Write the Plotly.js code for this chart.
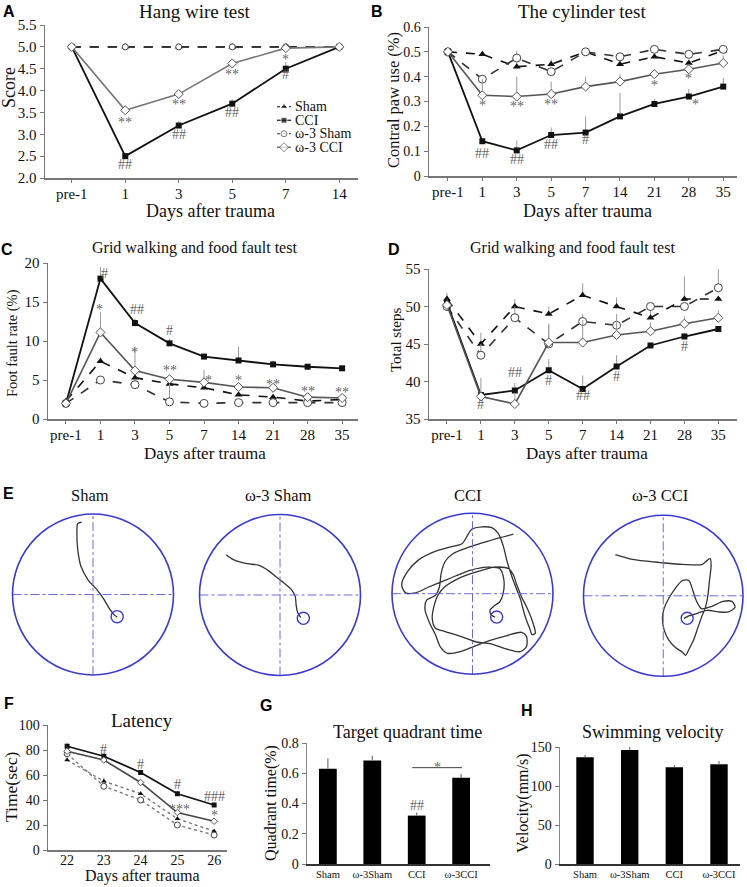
<!DOCTYPE html>
<html><head><meta charset="utf-8">
<script src="https://cdn.plot.ly/plotly-3.0.1.min.js"></script>
<style>html,body{margin:0;padding:0;background:#fff}#chart{width:747px;height:887px}</style>
</head><body><div id="chart"></div>
<script>
// ---------- DATA ----------
const daysA = ['pre-1','1','3','5','7','14'];
const A_sham   = [5,5,5,5,5,5];
const A_cci    = [5.0,2.5,3.2,3.7,4.5,5.0];
const A_w3sham = [5,5,5,5,5,5];
const A_w3cci  = [5.0,3.55,3.92,4.62,4.97,5.0];
const A_cciErr = [0,0.05,0.1,0.1,0.15,0];
const A_w3cciErr = [0,0.05,0.05,0.06,0.05,0];

const daysB = ['pre-1','1','3','5','7','14','21','28','35'];
const B_sham   = [0.50,0.49,0.44,0.45,0.50,0.45,0.48,0.455,0.505];
const B_cci    = [0.50,0.14,0.103,0.165,0.175,0.24,0.29,0.32,0.36];
const B_w3sham = [0.50,0.39,0.475,0.42,0.50,0.48,0.51,0.49,0.51];
const B_w3cci  = [0.50,0.325,0.32,0.33,0.36,0.38,0.41,0.43,0.455];
const B_shamErr   = [0,0,0.02,0.02,0,0,0,0,0];
const B_cciErr    = [0,0.01,0.04,0.03,0.065,0.095,0.02,0.03,0.035];
const B_w3shamErr = [0,0,0.03,0,0,0.01,0,0,0.01];
const B_w3cciErr  = [0,0.065,0.08,0.05,0.04,0.03,0.02,0.02,0.03];

const daysC = ['pre-1','1','3','5','7','14','21','28','35'];
const C_sham   = [2.3,7.4,5.3,4.5,4.0,3.1,2.8,2.3,2.5];
const C_cci    = [2.0,18.0,12.3,9.7,8.0,7.5,7.0,6.7,6.5];
const C_w3sham = [2.0,5.0,4.4,2.2,2.0,2.1,2.1,2.1,2.1];
const C_w3cci  = [2.0,11.1,6.2,5.1,4.7,4.1,4.0,2.8,2.7];
const C_shamErr   = [0,0.5,0.4,0.3,0.3,0.2,0.2,0.2,0.2];
const C_cciErr    = [0,1.5,0.6,0.6,0.3,1.8,0.5,0.3,0.2];
const C_w3shamErr = [0,0.3,0.3,2.8,0.2,0.2,0.2,0.2,0.2];
const C_w3cciErr  = [0,2.6,3.0,0.3,1.6,0.6,0.3,0.3,0.3];

const daysD = ['pre-1','1','3','5','7','14','21','28','35'];
const D_sham   = [51.0,45.0,50.0,49.0,51.5,50.0,48.5,51.0,51.0];
const D_cci    = [50.5,38.2,38.8,41.5,39.0,42.0,44.8,46.0,47.0];
const D_w3sham = [50.0,43.5,48.5,45.0,48.0,47.5,50.0,50.0,52.5];
const D_w3cci  = [50.2,38.0,37.0,45.2,45.2,46.2,46.7,47.7,48.5];
const D_shamErr   = [0.8,1.5,1.0,1.0,1.6,1.2,1.2,3.0,0];
const D_cciErr    = [0,0,1.0,1.5,1.8,1.5,0,0.5,0];
const D_w3shamErr = [1.0,1.5,1.5,2.5,1.0,1.5,0.5,0,2.7];
const D_w3cciErr  = [0,2.5,1.5,2.5,3.0,2.0,1.2,1.0,1.0];

const daysF = [22,23,24,25,26];
const F_sham   = [72,55,45,25,15];
const F_cci    = [83,75,62,45,36];
const F_w3sham = [77,51,40,20,12];
const F_w3cci  = [79,72,54,30,23];
const F_cciErr   = [3,2,2,2,2];
const F_w3cciErr = [3,2,3,3,3];
const F_shamErr  = [2,3,2,2,2];
const F_w3shamErr= [2,2,2,2,2];

const groupsGH = ['Sham','ω-3Sham','CCI','ω-3CCI'];
const G_vals = [0.63,0.685,0.32,0.57];
const G_err  = [0.07,0.03,0.02,0.025];
const H_vals = [137,146,124,128];
const H_err  = [3,4,3,4];

// significance marks
const sigA_x=[1,2,3,4,1,2,3,4], sigA_y=[3.37,3.77,4.47,4.81,2.32,3.0,3.49,4.36], sigA_t=['**','**','**','*','##','##','##','#'];
const sigB_x=[1,2,3,6,7,1,2,3,4,7.2], sigB_y=[0.30,0.294,0.306,0.38,0.407,0.089,0.068,0.125,0.145,0.305], sigB_t=['*','**','**','*','*','##','##','##','#','*'];
const sigC_x=[1.13,2.05,3.0,0.96,2.0,3.0,4.12,5,6,7,8], sigC_y=[18.7,14.1,11.4,14.6,9.1,6.7,5.4,5.4,5.0,4.0,3.85], sigC_t=['#','##','#','*','*','**','*','*','**','**','**'];
const sigD_x=[1,2,3,4,5,7], sigD_y=[36.96,41.2,40.2,38.1,40.7,44.7], sigD_t=['#','##','#','##','#','#'];
const sigF_x=[23,24,25,26,25.07,26], sigF_y=[80.5,68.8,52.8,42.7,36,30.6], sigF_t=['#','#','#','###','***','*'];
const sigG_x=[2], sigG_y=[0.385], sigG_t=['##'];
const bracketG = {from:1.9, to:3.02, y:0.637, label:'*', labelY:0.667};

// legend order (panel A)
const legendOrder = ['sham','cci','w3sham','w3cci'];

// Morris water maze swim paths (pool radius = 1)
const poolNames = ['Sham','ω-3 Sham','CCI','ω-3 CCI'];
const platX = [0.30,0.29,0.30,0.30], platY=[-0.275,-0.29,-0.29,-0.28], platR=[0.075,0.075,0.075,0.075];
const path0x=[-0.14,-0.19,-0.20,-0.19,-0.15,-0.06,0.04,0.13,0.20,0.26,0.30];
const path0y=[0.90,0.88,0.77,0.56,0.35,0.18,0.07,-0.05,-0.17,-0.25,-0.28];
const path1x=[-0.67,-0.58,-0.41,-0.27,-0.14,-0.04,0.06,0.14,0.19,0.20,0.22,0.26];
const path1y=[0.50,0.44,0.39,0.37,0.30,0.22,0.14,0.07,-0.02,-0.12,-0.22,-0.28];
const path2x=[0.51,0.32,0.12,-0.07,-0.24,-0.34,-0.39,-0.41,-0.46,-0.57,-0.59,-0.53,-0.46,-0.40,-0.31,-0.15,0.03,0.22,0.43,0.61,0.67,0.67,0.59,0.43,0.22,0.05,-0.15,-0.34,-0.46,-0.50,-0.48,-0.43,-0.35,-0.17,0.05,0.28,0.45,0.51,0.55,0.61,0.67,0.74,0.78,0.74,0.71,0.67,0.63,0.60,0.55,0.49,0.43,0.38,0.32,0.24,0.12,-0.01,-0.07,-0.13,-0.28,-0.48,-0.67,-0.81,-0.88,-0.83,-0.71,-0.55,-0.38,-0.21,-0.03,0.18,0.34,0.39,0.38,0.34,0.27,0.22,0.23,0.28];
const path2y=[0.74,0.69,0.63,0.57,0.50,0.40,0.25,0.09,-0.02,-0.08,-0.20,-0.37,-0.51,-0.66,-0.74,-0.72,-0.65,-0.58,-0.52,-0.48,-0.53,-0.66,-0.72,-0.69,-0.62,-0.60,-0.53,-0.47,-0.43,-0.31,-0.16,-0.02,0.08,0.19,0.27,0.33,0.31,0.23,0.11,-0.04,-0.16,-0.33,-0.49,-0.51,-0.43,-0.33,-0.20,-0.08,0.05,0.21,0.40,0.60,0.75,0.82,0.83,0.80,0.71,0.62,0.58,0.52,0.42,0.27,0.11,0.01,0.01,0.08,0.15,0.22,0.29,0.33,0.31,0.17,0.0,-0.10,-0.15,-0.20,-0.26,-0.29];
const path3x=[-0.60,-0.42,-0.21,-0.01,0.24,0.49,0.55,0.59,0.60,0.58,0.56,0.53,0.49,0.44,0.38,0.32,0.28,0.24,0.15,0.07,0.01,-0.01,0.01,0.07,0.15,0.24,0.32,0.37,0.41,0.48,0.61,0.75,0.86,0.90,0.82,0.69,0.55,0.42,0.32,0.26];
const path3y=[0.51,0.46,0.43,0.41,0.39,0.39,0.44,0.46,0.38,0.19,0.01,-0.14,-0.24,-0.38,-0.55,-0.67,-0.74,-0.70,-0.64,-0.55,-0.42,-0.28,-0.16,-0.03,0.09,0.19,0.19,0.07,-0.05,-0.16,-0.13,-0.07,-0.07,-0.14,-0.20,-0.20,-0.18,-0.22,-0.25,-0.28];
const pathsX=[path0x,path1x,path2x,path3x], pathsY=[path0y,path1y,path2y,path3y];

// ---------- STYLE / LAYOUT HELPERS ----------
const W=747, H=887;
const SERIF='"Liberation Serif", "Times New Roman", serif';
const SANS='"Liberation Sans", Arial, sans-serif';
const px = v => v/W, py = v => 1 - v/H;
const zeros = n => new Array(n).fill(0);

const sty = {
  sham:   {name:'Sham',     line:{color:'#111',width:1.6,dash:'dash'}, marker:{symbol:'triangle-up',size:7,color:'#111'}},
  cci:    {name:'CCI',      line:{color:'#111',width:1.8}, marker:{symbol:'square',size:6,color:'#111'}},
  w3sham: {name:'ω-3 Sham', line:{color:'#333',width:1.6,dash:'dash'}, marker:{symbol:'circle',size:8,color:'#fff',line:{color:'#444',width:1}}},
  w3cci:  {name:'ω-3 CCI',  line:{color:'#555',width:1.6}, marker:{symbol:'diamond',size:7,color:'#fff',line:{color:'#555',width:1}}}
};

const traces=[];
function series(ax, ay, xs, ys, err, key, override, msize){
  const s = sty[key];
  const mk = JSON.parse(JSON.stringify(s.marker));
  if(msize) mk.size = msize;
  const t = {type:'scatter', mode:'lines+markers', x:xs, y:ys, xaxis:ax, yaxis:ay,
    name:s.name, showlegend:false,
    line:Object.assign({}, s.line, override||{}), marker:mk,
    cliponaxis:false, hoverinfo:'skip'};
  if(err) t.error_y = {type:'data', symmetric:false, array:err, arrayminus:zeros(err.length), color:'#999', thickness:1, width:0};
  traces.push(t);
}

function catX(x0,x1,cats,range,anchor,fs){
  return {domain:[px(x0),px(x1)], type:'category', categoryorder:'array', categoryarray:cats, range:range,
    anchor:anchor, showline:true, linecolor:'#777', linewidth:1.5, ticks:'outside', ticklen:3, tickcolor:'#777', ticklabelstandoff:-2,
    tickfont:{family:SERIF,size:fs||15,color:'#111'}, showgrid:false, zeroline:false, fixedrange:true};
}
function linY(y0,y1,range,dtick,anchor,fmt,fs){
  const o = {domain:[py(y1),py(y0)], range:range, dtick:dtick, tick0:range[0], anchor:anchor,
    showline:true, linecolor:'#777', linewidth:1.5, ticks:'outside', ticklen:4, tickcolor:'#777',
    tickfont:{family:SERIF,size:fs||15,color:'#111'}, showgrid:false, zeroline:false, fixedrange:true};
  if(fmt) o.tickformat=fmt;
  return o;
}

// ---------- PANEL A ----------
series('x','y',daysA,A_sham,null,'sham');
series('x','y',daysA,A_w3sham,null,'w3sham',null,6);
series('x','y',daysA,A_cci,A_cciErr,'cci');
series('x','y',daysA,A_w3cci,A_w3cciErr,'w3cci',{color:'#777'});
// ---------- PANEL B ----------
series('x2','y2',daysB,B_sham,B_shamErr,'sham');
series('x2','y2',daysB,B_w3sham,B_w3shamErr,'w3sham');
series('x2','y2',daysB,B_cci,B_cciErr,'cci');
series('x2','y2',daysB,B_w3cci,B_w3cciErr,'w3cci');
// ---------- PANEL C ----------
series('x3','y3',daysC,C_sham,C_shamErr,'sham');
series('x3','y3',daysC,C_w3sham,C_w3shamErr,'w3sham');
series('x3','y3',daysC,C_cci,C_cciErr,'cci');
series('x3','y3',daysC,C_w3cci,C_w3cciErr,'w3cci');
// ---------- PANEL D ----------
series('x4','y4',daysD,D_sham,D_shamErr,'sham');
series('x4','y4',daysD,D_w3sham,D_w3shamErr,'w3sham');
series('x4','y4',daysD,D_cci,D_cciErr,'cci');
series('x4','y4',daysD,D_w3cci,D_w3cciErr,'w3cci');
// ---------- PANEL F ----------
series('x5','y5',daysF,F_sham,F_shamErr,'sham',{dash:'dot',color:'#777',width:1.4},5);
series('x5','y5',daysF,F_w3sham,F_w3shamErr,'w3sham',{dash:'dot',color:'#777',width:1.4},6);
series('x5','y5',daysF,F_cci,F_cciErr,'cci',null,5);
series('x5','y5',daysF,F_w3cci,F_w3cciErr,'w3cci',{color:'#444'},5);
// ---------- PANEL G / H ----------
traces.push({type:'bar', x:groupsGH, y:G_vals, xaxis:'x6', yaxis:'y6', width:0.4, marker:{color:'#000'},
  error_y:{type:'data',symmetric:false,array:G_err,arrayminus:zeros(4),color:'#777',thickness:1.2,width:0}, showlegend:false, hoverinfo:'skip'});
traces.push({type:'bar', x:groupsGH, y:H_vals, xaxis:'x7', yaxis:'y7', width:0.39, marker:{color:'#000'},
  error_y:{type:'data',symmetric:false,array:H_err,arrayminus:zeros(4),color:'#777',thickness:1.2,width:0}, showlegend:false, hoverinfo:'skip'});
// ---------- PANEL E paths ----------
for(let i=0;i<4;i++){
  traces.push({type:'scatter', mode:'lines', x:pathsX[i], y:pathsY[i], xaxis:'x'+(8+i), yaxis:'y'+(8+i),
    line:{color:'#333',width:1.3,shape:'spline',smoothing:0.8}, showlegend:false, hoverinfo:'skip'});
}
// ---------- compact legend for panel A (symbols on a small hidden axis) ----------
legendOrder.forEach((k,i)=>{
  const s=sty[k];
  const mk=JSON.parse(JSON.stringify(s.marker));
  mk.size=[0,k==='w3sham'?6:mk.size,0];
  traces.push({type:'scatter', mode:'lines+markers', x:[0,0.5,1], y:[i,i,i], xaxis:'x12', yaxis:'y12',
    line:Object.assign({},s.line,{width:1.2, dash:(s.line.dash?'dot':'solid')}), marker:mk, showlegend:false, hoverinfo:'skip', cliponaxis:false});
});

const layout = {
  width:W, height:H, margin:{l:0,r:0,t:0,b:0}, paper_bgcolor:'#fff', plot_bgcolor:'rgba(0,0,0,0)',
  showlegend:false,
  xaxis: catX(45,358,daysA,[-0.5,5.35],'y'),
  yaxis: linY(25,178,[2.0,5.5],0.5,'x','.1f'),
  xaxis2: catX(429,737,daysB,[-0.55,8.4],'y2'),
  yaxis2: linY(27,176,[0,0.6],0.1,'x2',null,14),
  xaxis3: catX(48,358,daysC,[-0.52,8.46],'y3'),
  yaxis3: linY(263,419,[0,20],5,'x3'),
  xaxis4: catX(429,737,daysD,[-0.53,8.55],'y4'),
  yaxis4: linY(269,419,[35,55],5,'x4'),
  xaxis5: {domain:[px(48),px(227)], range:[21.48,26.35], dtick:1, anchor:'y5', showline:true, linecolor:'#777', linewidth:1.5,
    ticks:'', ticklabelstandoff:-3, tickfont:{family:SERIF,size:14,color:'#111'}, showgrid:false, zeroline:false, fixedrange:true},
  yaxis5: linY(725,850,[0,100],20,'x5',null,14),
  xaxis6: Object.assign(catX(307,490,groupsGH,[-0.47,3.65],'y6',10.5),{ticks:'',linecolor:'#333',ticklabelstandoff:0}),
  yaxis6: Object.assign(linY(743,864,[0,0.8],0.2,'x6',null,14),{linecolor:'#888'}),
  xaxis7: Object.assign(catX(560,740,groupsGH,[-0.56,3.47],'y7',10.5),{ticks:'',linecolor:'#333',ticklabelstandoff:0}),
  yaxis7: Object.assign(linY(747,864,[0,150],50,'x7',null,14),{linecolor:'#888'}),
  xaxis12: {domain:[px(277),px(291)], range:[0,1], visible:false, anchor:'y12', fixedrange:true},
  yaxis12: {domain:[py(154),py(100)], range:[3.5,-0.5], visible:false, anchor:'x12', fixedrange:true},
  annotations:[], shapes:[]
};

// E pools
const poolCx=[93,280,472.5,664], poolCy=[594.5,595,593.7,595.8];
const half = 80.5*1.05;
for(let i=0;i<4;i++){
  const n=8+i;
  layout['xaxis'+n] = {domain:[px(poolCx[i]-half),px(poolCx[i]+half)], range:[-1.05,1.05], visible:false, anchor:'y'+n, fixedrange:true};
  layout['yaxis'+n] = {domain:[py(poolCy[i]+half),py(poolCy[i]-half)], range:[-1.05,1.05], visible:false, anchor:'x'+n, fixedrange:true};
  const xr='x'+n, yr='y'+n;
  layout.shapes.push({type:'line', xref:xr, yref:yr, x0:-1, x1:1, y0:0, y1:0, line:{color:'#6a6ae0',width:1,dash:'dashdot'}});
  layout.shapes.push({type:'line', xref:xr, yref:yr, x0:0, x1:0, y0:-1, y1:1, line:{color:'#6a6ae0',width:1,dash:'dashdot'}});
  layout.shapes.push({type:'circle', xref:xr, yref:yr, x0:-1, x1:1, y0:-1, y1:1, line:{color:'#3b3bd0',width:1.6}});
  layout.shapes.push({type:'circle', xref:xr, yref:yr, x0:platX[i]-platR[i], x1:platX[i]+platR[i], y0:platY[i]-platR[i], y1:platY[i]+platR[i], line:{color:'#3b3bd0',width:1.4}});
}

// G bracket
layout.shapes.push({type:'line', xref:'x6', yref:'y6', x0:bracketG.from, x1:bracketG.to, y0:bracketG.y, y1:bracketG.y, line:{color:'#444',width:1}});

// text helpers
function txt(x,y,t,size,opts){
  layout.annotations.push(Object.assign({xref:'paper',yref:'paper',x:px(x),y:py(y),text:t,showarrow:false,
    xanchor:'center',yanchor:'middle',font:{family:SERIF,size:size,color:'#111'}},opts||{}));
}
function letter(x,y,t){ txt(x,y,'<b>'+t+'</b>',16,{font:{family:SANS,size:16,color:'#000'}}); }
function sigs(xr,yr,xs,ys,ts){
  for(let i=0;i<xs.length;i++){
    layout.annotations.push({xref:xr,yref:yr,x:xs[i],y:ys[i],text:ts[i],showarrow:false,xanchor:'center',yanchor:'middle',
      yshift: ts[i].indexOf('*')>=0 ? -4 : 0, font:{family:SERIF,size:14,color:'#666'}});
  }
}
sigs('x','y',sigA_x,sigA_y,sigA_t);
sigs('x2','y2',sigB_x,sigB_y,sigB_t);
sigs('x3','y3',sigC_x,sigC_y,sigC_t);
sigs('x4','y4',sigD_x,sigD_y,sigD_t);
sigs('x5','y5',sigF_x,sigF_y,sigF_t);
sigs('x6','y6',sigG_x,sigG_y,sigG_t);
sigs('x6','y6',[(bracketG.from+bracketG.to)/2],[bracketG.labelY],[bracketG.label]);

// legend labels (panel A)
legendOrder.forEach((k,i)=>{
  layout.annotations.push({xref:'paper',yref:'y12',x:px(293),y:i,text:sty[k].name,showarrow:false,xanchor:'left',yanchor:'middle',
    font:{family:SERIF,size:14,color:'#111'}});
});

// panel letters
letter(9,11,'A'); letter(377,11,'B'); letter(7,250,'C'); letter(394,249,'D');
letter(8,493,'E'); letter(9,703,'F'); letter(266,705,'G'); letter(527,710,'H');
// titles
txt(195,11,'Hang wire test',19);
txt(582,11,'The cylinder test',19);
txt(194,248,'Grid walking and food fault test',16);
txt(572,248,'Grid walking and food fault test',16);
txt(90,495,poolNames[0],16.5); txt(278,495,poolNames[1],16.5); txt(468,495,poolNames[2],16.5); txt(660,495,poolNames[3],16.5);
txt(142,720,'Latency',19);
txt(407,732,'Target quadrant time',18);
txt(653,732,'Swimming velocity',18);
// axis titles
txt(210,211,'Days after trauma',18);
txt(587,211,'Days after trauma',18);
txt(205,453,'Days after trauma',17);
txt(587,453,'Days after trauma',17);
txt(142,887,'Days after trauma',16,{yanchor:'bottom'});
txt(9,88,'Score',18,{textangle:-90});
txt(393,100,'Contral paw use (%)',16.5,{textangle:-90});
txt(12,343,'Foot fault rate (%)',14.5,{textangle:-90});
txt(396,340,'Total steps',15,{textangle:-90});
txt(11,787,'Time(sec)',17.5,{textangle:-90});
txt(271,803,'Quadrant time(%)',16,{textangle:-90});
txt(523,803,'Velocity(mm/s)',16,{textangle:-90});

Plotly.newPlot('chart', traces, layout, {staticPlot:true, displayModeBar:false});
</script></body></html>
